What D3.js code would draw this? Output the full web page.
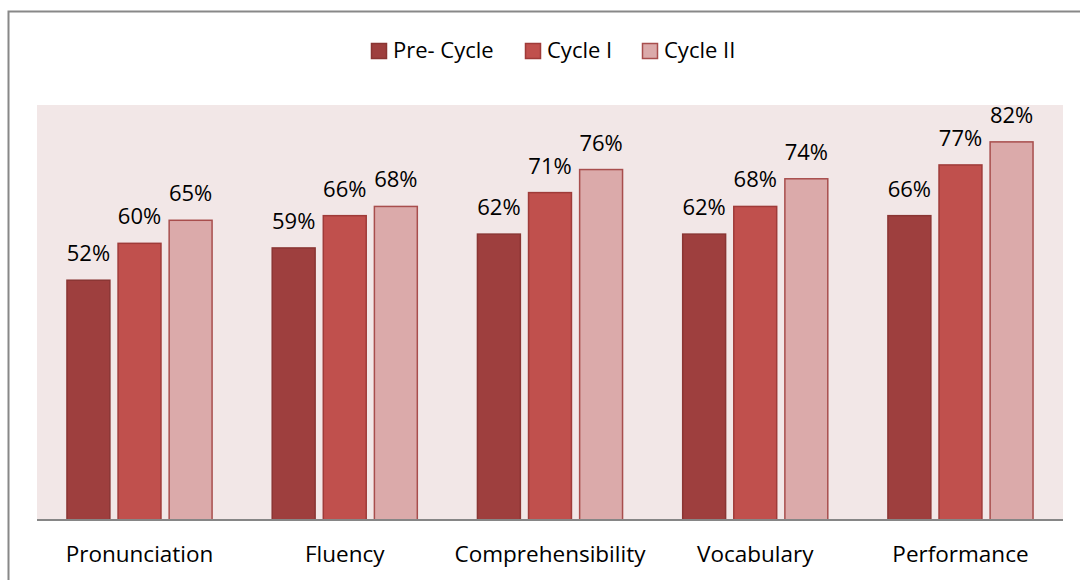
<!DOCTYPE html>
<html>
<head>
<meta charset="utf-8">
<script src="https://cdn.jsdelivr.net/npm/d3@7"></script>
<style>
  body { margin: 0; background: #fff; }
  text { font-family: "Open Sans", "DejaVu Sans", sans-serif; fill: #000; }
</style>
</head>
<body>
<div id="chart"></div>
<script>
// chart data
const categories = ["Pronunciation", "Fluency", "Comprehensibility", "Vocabulary", "Performance"];
const seriesNames = ["Pre- Cycle", "Cycle I", "Cycle II"];
const preCycle = [0.52, 0.59, 0.62, 0.62, 0.66];
const cycleOne = [0.60, 0.66, 0.71, 0.68, 0.77];
const cycleTwo = [0.65, 0.68, 0.76, 0.74, 0.82];

const seriesValues = [preCycle, cycleOne, cycleTwo];

let width = 1080, height = 580;
let plot = {left: 37, right: 1063, top: 105, bottom: 520};

let svg = d3.select("#chart")
  .append("svg")
  .attr("width", width)
  .attr("height", height);

// outer frame
svg.append("rect")
  .attr("x", 8.5)
  .attr("y", 11.5)
  .attr("width", 1100)
  .attr("height", 600)
  .attr("fill", "none")
  .attr("stroke", "#888")
  .attr("stroke-width", 2);

// plot background
svg.append("rect")
  .attr("x", plot.left)
  .attr("y", plot.top)
  .attr("width", plot.right - plot.left)
  .attr("height", plot.bottom - plot.top)
  .attr("fill", "#F2E7E7");

const x0 = d3.scaleBand()
  .domain(categories)
  .range([plot.left, plot.right])
  .paddingInner(0.293)
  .paddingOuter(0.146);

const x1 = d3.scaleBand()
  .domain(seriesNames)
  .range([0, x0.bandwidth()])
  .paddingInner(0.16);

const y = d3.scaleLinear()
  .domain([0, 0.9])
  .range([plot.bottom, plot.top]);

const color = d3.scaleOrdinal()
  .domain(seriesNames)
  .range(["#9E3F3E", "#C0504D", "#DBAAAA"]);

const strokeColor = d3.scaleOrdinal()
  .domain(seriesNames)
  .range(["#8A3533", "#9F3B39", "#A84E4D"]);

// flatten into rows
let rows = [];
categories.forEach((c, i) => {
  seriesNames.forEach((s, j) => {
    rows.push({cat: c, series: s, value: seriesValues[j][i]});
  });
});

const fmt = d3.format(".0%");

// bars
svg.selectAll("rect.bar")
  .data(rows)
  .enter()
  .append("rect")
  .attr("class", "bar")
  .attr("x", d => x0(d.cat) + x1(d.series))
  .attr("y", d => y(d.value))
  .attr("width", x1.bandwidth())
  .attr("height", d => y(0) - y(d.value))
  .attr("fill", d => color(d.series))
  .attr("stroke", d => strokeColor(d.series))
  .attr("stroke-width", 1.5);

// value labels
svg.selectAll("text.val")
  .data(rows)
  .enter()
  .append("text")
  .attr("class", "val")
  .attr("x", d => x0(d.cat) + x1(d.series) + x1.bandwidth() / 2)
  .attr("y", d => y(d.value) - 19)
  .attr("text-anchor", "middle")
  .style("font-size", "22px")
  .text(d => fmt(d.value));

// baseline axis
const xAxis = svg.append("g")
  .attr("transform", `translate(0,${plot.bottom})`)
  .call(d3.axisBottom(x0).tickSize(0).tickPadding(26));

xAxis.select(".domain")
  .attr("stroke", "#868686")
  .attr("stroke-width", 2)
  .attr("d", `M${plot.left},0H${plot.right}`);

xAxis.selectAll("text")
  .style("font-size", "22.5px")
  .style("font-family", "'Open Sans', sans-serif")
  .attr("fill", "#000");

// legend
const legendX = [371, 525, 642];
seriesNames.forEach((s, i) => {
  svg.append("rect")
    .attr("x", legendX[i] + 0.5)
    .attr("y", 43.5)
    .attr("width", 15)
    .attr("height", 15)
    .attr("fill", color(s))
    .attr("stroke", strokeColor(s))
    .attr("stroke-width", 1.5);

  svg.append("text")
    .attr("x", legendX[i] + 22)
    .attr("y", 58)
    .style("font-size", "22px")
    .text(s);
});
</script>
</body>
</html>
